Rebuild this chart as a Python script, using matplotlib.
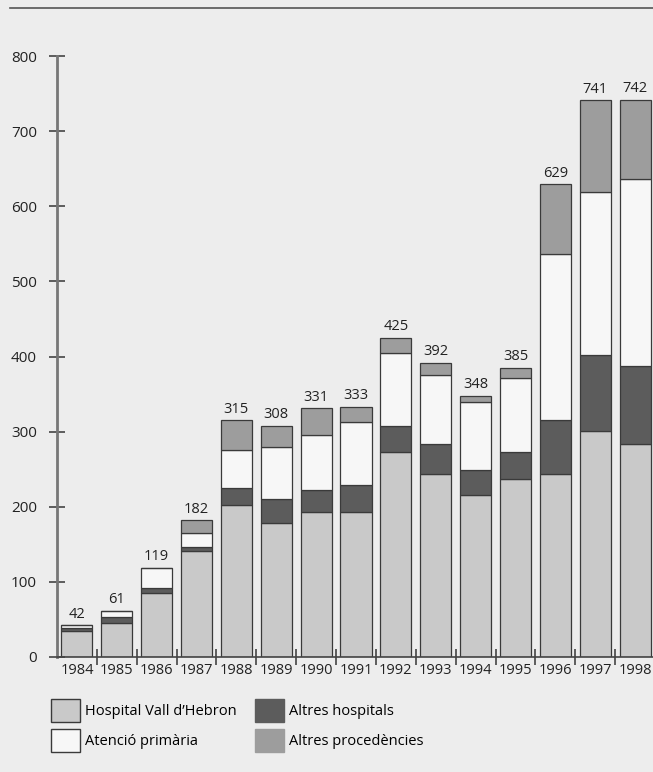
import numpy as np
import matplotlib.pyplot as plt
from matplotlib.patches import Patch

years = ['1984', '1985', '1986', '1987', '1988', '1989', '1990', '1991',
         '1992', '1993', '1994', '1995', '1996', '1997', '1998']
hospital = [34, 45, 85, 141, 202, 178, 193, 193, 273, 243, 216, 237, 243, 301, 283]
altres_hosp = [5, 8, 7, 5, 23, 32, 29, 36, 34, 40, 33, 36, 72, 101, 105]
primaria = [3, 8, 27, 19, 50, 70, 74, 84, 97, 93, 90, 99, 222, 217, 248]
procedencies = [0, 0, 0, 17, 40, 28, 35, 20, 21, 16, 9, 13, 92, 122, 106]
totals = [42, 61, 119, 182, 315, 308, 331, 333, 425, 392, 348, 385, 629, 741, 742]

plt.rcParams['font.family'] = ['Open Sans', 'DejaVu Sans']
bg = '#ededed'
edge = '#3a3a3a'
c_hosp = '#c9c9c9'
c_altres = '#5c5c5c'
c_prim = '#f7f7f7'
c_proc = '#9d9d9d'

fig = plt.figure(figsize=(6.53, 7.72), dpi=100, facecolor=bg)
ax = fig.add_axes([57 / 653, 1 - 657 / 772, 596 / 653, 601 / 772])
ax.set_facecolor(bg)

x = np.arange(len(years))
w = 0.78
bottom = np.zeros(len(years))
for vals, col in [(hospital, c_hosp), (altres_hosp, c_altres),
                  (primaria, c_prim), (procedencies, c_proc)]:
    ax.bar(x, vals, w, bottom=bottom, color=col, edgecolor=edge, linewidth=0.9)
    bottom += np.array(vals)

for xi, t in zip(x, totals):
    ax.text(xi, t + 5, str(t), ha='center', va='bottom', fontsize=10.5, color='#222222')

ax.set_xlim(-0.5, 14.45)
ax.set_ylim(0, 800)
ax.set_yticks(range(0, 801, 100))
ax.tick_params(axis='y', direction='inout', length=11, width=1.2, color='#444444',
               labelsize=11, pad=9, labelcolor='#222222')
ax.set_xticks(x)
ax.set_xticklabels(years)
ax.set_xticks(x[:-1] + 0.5, minor=True)
ax.tick_params(axis='x', which='major', length=0, labelsize=10.5, pad=4, labelcolor='#222222')
ax.tick_params(axis='x', which='minor', direction='inout', length=12, width=1.2, color='#444444')

for s in ['top', 'right']:
    ax.spines[s].set_visible(False)
ax.spines['left'].set_color('#777777')
ax.spines['left'].set_linewidth(2)
ax.spines['bottom'].set_color('#444444')
ax.spines['bottom'].set_linewidth(1.2)

fig.add_artist(plt.Line2D([10 / 653, 1], [1 - 8 / 772, 1 - 8 / 772],
                          transform=fig.transFigure, color='#555555', linewidth=1.2))

handles = [Patch(facecolor=c_hosp, edgecolor=edge, label="Hospital Vall d\u2019Hebron"),
           Patch(facecolor=c_prim, edgecolor=edge, label='Atenci\u00f3 prim\u00e0ria'),
           Patch(facecolor=c_altres, edgecolor=c_altres, label='Altres hospitals'),
           Patch(facecolor=c_proc, edgecolor=c_proc, label='Altres proced\u00e8ncies')]
fig.legend(handles=handles, ncol=2, loc='upper left', bbox_to_anchor=(0.058, 0.112),
           frameon=False, fontsize=10.5, handlelength=2.0, handleheight=2.1,
           columnspacing=1.25, labelspacing=0.45, handletextpad=0.35)

fig.savefig('out.png', dpi=100, facecolor=bg)
